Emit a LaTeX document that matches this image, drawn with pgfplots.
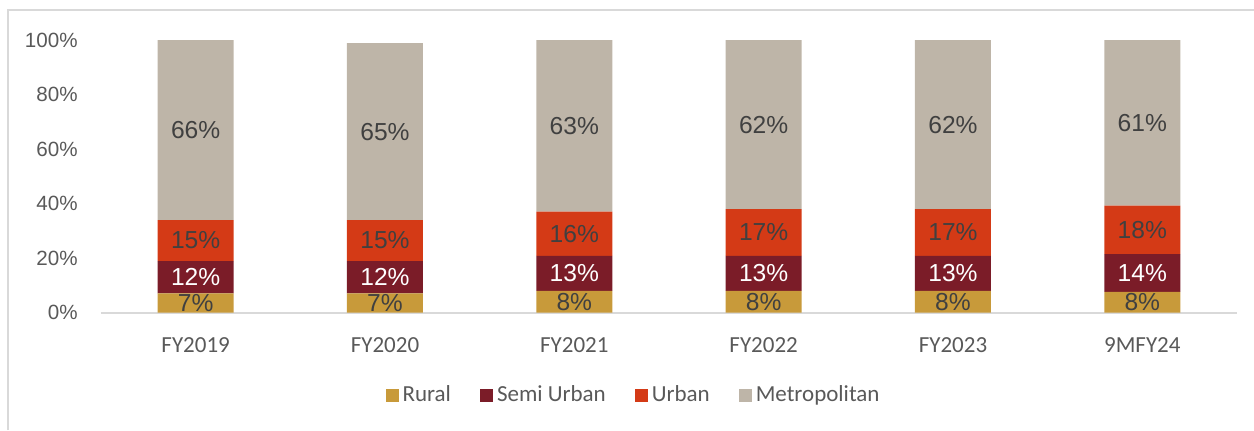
\documentclass[border=0pt]{standalone}
\usepackage{pgfplots}
\pgfplotsset{compat=1.18}
\usepackage{pgfplotstable}
\usepackage{fontspec}
\setmainfont{Liberation Sans}
\newfontfamily\calibri{Carlito}
\definecolor{rural}{HTML}{C89A3A}
\definecolor{semi}{HTML}{7B1C28}
\definecolor{urban}{HTML}{D43A16}
\definecolor{metro}{HTML}{BEB5A8}
\definecolor{txt}{HTML}{404040}
\definecolor{ticktxt}{HTML}{595959}
\definecolor{framec}{HTML}{D9D9D9}

\pgfplotstableread{
x v
0 7.0
1 7.0
2 7.9
3 7.9
4 7.9
5 7.6
}\ruraltab
\pgfplotstableread{
x v
0 11.9
1 11.9
2 12.9
3 12.9
4 12.9
5 13.8
}\semitab
\pgfplotstableread{
x v
0 15.0
1 15.0
2 16.2
3 17.1
4 17.1
5 17.8
}\urbantab
\pgfplotstableread{
x v
0 66.1
1 65.0
2 63.0
3 62.1
4 62.1
5 60.8
}\metrotab

\begin{document}
\begin{tikzpicture}[x=1pt,y=1pt]
\path[use as bounding box] (0,0) rectangle (627,215);
\draw[framec, line width=1pt] (4,0) -- (4,210) -- (627,210);
\begin{axis}[
  at={(50.5pt,58.75pt)}, anchor=south west,
  scale only axis, width=568pt, height=136.25pt,
  ymin=0, ymax=100, xmin=-0.5, xmax=5.5,
  ybar stacked, bar width=38pt,
  separate axis lines,
  axis x line*=bottom, axis y line*=left,
  y axis line style={draw=none},
  x axis line style={draw=framec, line width=1pt, -},
  major tick length=0pt,
  ytick={0,20,40,60,80,100},
  /pgf/number format/assume math mode=true,
  yticklabel={\pgfmathprintnumber{\tick}\%},
  yticklabel style={font=\fontsize{10.3}{12}\selectfont, text=ticktxt, anchor=east, inner sep=0pt, xshift=-11.5pt},
  xtick={0,1,2,3,4,5},
  xticklabels={FY2019,FY2020,FY2021,FY2022,FY2023,9MFY24},
  xticklabel style={font=\calibri\fontsize{11.5}{13}\selectfont, text=ticktxt, anchor=north, inner sep=0pt, yshift=-12.25pt},
  point meta=explicit,
  nodes near coords={\pgfmathprintnumber[fixed,precision=0]{\pgfplotspointmeta}\%},
  every node near coord/.append style={anchor=center, font=\fontsize{12.3}{14}\selectfont, text=txt, inner sep=0pt},
  legend style={at={(0.4697,-0.304)}, anchor=center, draw=none, fill=none, legend columns=4,
    font=\calibri\fontsize{11.5}{13}\selectfont, text=ticktxt,
    /tikz/every even column/.append style={column sep=12.5pt},
    legend cell align=left, inner sep=0pt},
  legend image code/.code={\fill[#1, draw=none] (0pt,-3.25pt) rectangle (6.5pt,3.25pt);},
]
\addplot[fill=rural, draw=none] table[x=x, y=v, meta=v] {\ruraltab};
\addplot[fill=semi, draw=none, every node near coord/.append style={text=white}] table[x=x, y=v, meta=v] {\semitab};
\addplot[fill=urban, draw=none] table[x=x, y=v, meta=v] {\urbantab};
\addplot[fill=metro, draw=none] table[x=x, y=v, meta=v] {\metrotab};
\legend{Rural, Semi Urban, Urban, Metropolitan}
\end{axis}
\end{tikzpicture}
\end{document}
